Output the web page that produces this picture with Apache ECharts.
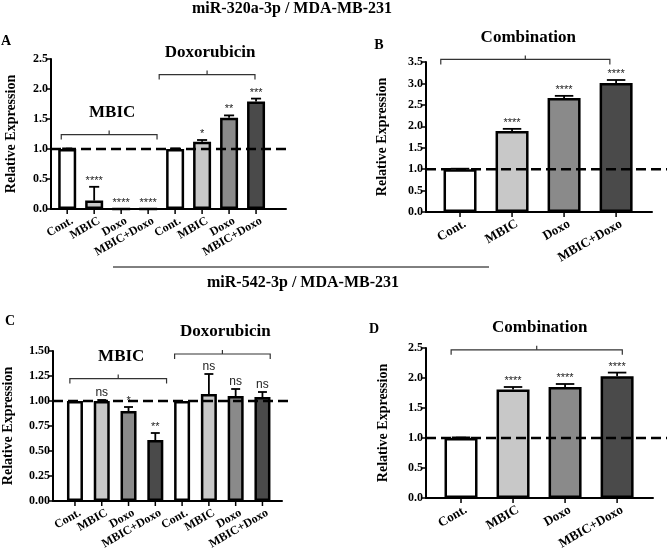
<!DOCTYPE html>
<html>
<head>
<meta charset="utf-8">
<script src="https://cdn.jsdelivr.net/npm/echarts@6.0.0/dist/echarts.min.js"></script>
<style>
  html, body { margin: 0; padding: 0; background: #fff; }
  #chart { width: 667px; height: 552px; }
</style>
</head>
<body>
<div id="chart"></div>
<script>
// groups shown on the x axes
var groupLabels = ['Cont.', 'MBIC', 'Doxo', 'MBIC+Doxo'];
var labelsAC = groupLabels.concat(groupLabels);

// A: miR-320a-3p, MBIC block then Doxorubicin block
var valuesA = [1.00, 0.14, 0.00, 0.00, 1.00, 1.12, 1.52, 1.79];
var errorsA = [0.01, 0.23, 0.00, 0.00, 0.01, 0.03, 0.04, 0.05];
var sigA = ['', '****', '****', '****', '', '*', '**', '***'];
var bracketsA = [
  { name: 'MBIC', from: -0.22, to: 3.33, y: 1.24 },
  { name: 'Doxorubicin', from: 3.41, to: 6.96, y: 2.24 }
];

// B: miR-320a-3p, combination
var valuesB = [1.00, 1.89, 2.66, 3.01];
var errorsB = [0.01, 0.05, 0.05, 0.07];
var sigB = ['', '****', '****', '****'];
var bracketsB = [{ name: 'Combination', from: -0.37, to: 2.88, y: 3.56 }];

// C: miR-542-3p, MBIC block then Doxorubicin block
var valuesC = [1.00, 1.00, 0.90, 0.61, 1.00, 1.07, 1.05, 1.04];
var errorsC = [0.00, 0.01, 0.04, 0.07, 0.00, 0.20, 0.07, 0.05];
var sigC = ['', 'ns', '*', '**', '', 'ns', 'ns', 'ns'];
var bracketsC = [
  { name: 'MBIC', from: -0.19, to: 3.42, y: 1.224 },
  { name: 'Doxorubicin', from: 3.72, to: 7.29, y: 1.47 }
];

// D: miR-542-3p, combination
var valuesD = [1.00, 1.81, 1.85, 2.03];
var errorsD = [0.01, 0.04, 0.05, 0.06];
var sigD = ['', '****', '****', '****'];
var bracketsD = [{ name: 'Combination', from: -0.19, to: 3.10, y: 2.47 }];

var refLevel = 1.0;

var barShades = ['#ffffff', '#c8c8c8', '#8a8a8a', '#4a4a4a'];
var serif = '"Liberation Serif", "Times New Roman", serif';
var sans = '"Liberation Sans", Arial, sans-serif';

var panels = [
  { letter: 'A', labels: labelsAC, values: valuesA, errors: errorsA, sig: sigA, brackets: bracketsA,
    yMax: 2.5, yStep: 0.5, dec: 1, grid: { left: 51, top: 59, width: 235, height: 150 },
    xMin: -0.6, xMax: 8.11, lineEnd: 8.15, barWidth: 18, nameGap: 33, labelFont: 12 },
  { letter: 'B', labels: groupLabels, values: valuesB, errors: errorsB, sig: sigB, brackets: bracketsB,
    yMax: 3.5, yStep: 0.5, dec: 1, grid: { left: 426, top: 62, width: 226, height: 150 },
    xMin: -0.654, xMax: 3.69, lineEnd: 3.98, barWidth: 33, nameGap: 37, labelFont: 13 },
  { letter: 'C', labels: labelsAC, values: valuesC, errors: errorsC, sig: sigC, brackets: bracketsC,
    yMax: 1.5, yStep: 0.25, dec: 2, grid: { left: 52, top: 351, width: 230, height: 150 },
    xMin: -0.82, xMax: 7.73, lineEnd: 8.14, barWidth: 16, nameGap: 38, labelFont: 12 },
  { letter: 'D', labels: groupLabels, values: valuesD, errors: errorsD, sig: sigD, brackets: bracketsD,
    yMax: 2.5, yStep: 0.5, dec: 1, grid: { left: 426, top: 348, width: 227, height: 150 },
    xMin: -0.673, xMax: 3.69, lineEnd: 3.96, barWidth: 33, nameGap: 36, labelFont: 13 }
];

function deg(d) { return d * Math.PI / 180; }

var grids = [], xAxes = [], yAxes = [], series = [];

panels.forEach(function (p, k) {
  grids.push(Object.assign({ containLabel: false }, p.grid));

  xAxes.push({
    gridIndex: k, type: 'value', min: p.xMin, max: p.xMax,
    axisLine: { onZero: false, lineStyle: { color: '#000', width: 2 } },
    axisTick: { show: false }, axisLabel: { show: false }, splitLine: { show: false }
  });

  yAxes.push({
    gridIndex: k, type: 'value', min: 0, max: p.yMax, interval: p.yStep,
    name: 'Relative Expression', nameLocation: 'middle', nameGap: p.nameGap,
    nameTextStyle: { fontFamily: serif, fontWeight: 'bold', fontSize: 14, color: '#000' },
    axisLine: { show: true, onZero: false, lineStyle: { color: '#000', width: 2 } },
    axisTick: { show: true, length: 4, lineStyle: { color: '#000', width: 1.5 } },
    axisLabel: {
      margin: 3, fontFamily: serif, fontWeight: 'bold', fontSize: 12, color: '#000',
      formatter: function (v) { return v.toFixed(p.dec); }
    },
    splitLine: { show: false }
  });

  // bars
  series.push({
    type: 'bar', xAxisIndex: k, yAxisIndex: k, barWidth: p.barWidth, z: 2,
    data: p.values.map(function (v, i) {
      return { value: [i, v], itemStyle: { color: barShades[i % 4], borderColor: '#000', borderWidth: 2.5 } };
    })
  });

  // dashed reference line at 1.0
  series.push({
    type: 'custom', xAxisIndex: k, yAxisIndex: k, z: 5, clip: false,
    data: [[p.xMin, p.lineEnd, refLevel]],
    renderItem: function (params, api) {
      var a = api.coord([api.value(0), api.value(2)]);
      var b = api.coord([api.value(1), api.value(2)]);
      return { type: 'line', shape: { x1: a[0], y1: a[1], x2: b[0], y2: b[1] },
        style: { stroke: '#000', lineWidth: 2.5, lineDash: [10, 5] } };
    }
  });

  // error bars + significance marks (above the dashed line)
  series.push({
    type: 'custom', xAxisIndex: k, yAxisIndex: k, z: 6, clip: false,
    data: p.values.map(function (v, i) { return [i, v, p.errors[i]]; }),
    renderItem: function (params, api) {
      var i = params.dataIndex;
      var base = api.coord([api.value(0), api.value(1)]);
      var top = api.coord([api.value(0), api.value(1) + api.value(2)]);
      var cap = p.barWidth * 0.28;
      var kids = [];
      if (api.value(2) > 0) {
        kids.push({ type: 'line', shape: { x1: base[0], y1: base[1], x2: top[0], y2: top[1] },
          style: { stroke: '#000', lineWidth: 1.8 } });
        kids.push({ type: 'line', shape: { x1: top[0] - cap, y1: top[1], x2: top[0] + cap, y2: top[1] },
          style: { stroke: '#000', lineWidth: 1.8 } });
      }
      var s = p.sig[i];
      if (s) {
        var isNs = s === 'ns';
        kids.push({ type: 'text', x: top[0], y: top[1] - (isNs ? 7 : 6),
          style: { text: s, textAlign: 'center', align: 'center', textVerticalAlign: 'middle', verticalAlign: 'middle',
            font: (isNs ? '12px ' : '11px ') + sans, fill: '#222' } });
      }
      return { type: 'group', children: kids };
    }
  });

  // group brackets with their titles
  series.push({
    type: 'custom', xAxisIndex: k, yAxisIndex: k, z: 4, clip: false,
    data: p.brackets.map(function (b) { return [b.from, b.to, b.y]; }),
    renderItem: function (params, api) {
      var b = p.brackets[params.dataIndex];
      var l = api.coord([api.value(0), api.value(2)]);
      var r = api.coord([api.value(1), api.value(2)]);
      var mid = (l[0] + r[0]) / 2, y = l[1];
      var st = { stroke: '#333', lineWidth: 1.2, fill: null };
      return { type: 'group', children: [
        { type: 'polyline', shape: { points: [[l[0], y + 5], [l[0], y], [r[0], y], [r[0], y + 5]] }, style: st },
        { type: 'line', shape: { x1: mid, y1: y - 4, x2: mid, y2: y }, style: st },
        { type: 'text', x: mid + 3, y: y - 22,
          style: { text: b.name, textAlign: 'center', align: 'center', textVerticalAlign: 'middle', verticalAlign: 'middle',
            font: 'bold 17px ' + serif, fill: '#000' } }
      ] };
    }
  });

  // category ticks and slanted labels
  series.push({
    type: 'custom', xAxisIndex: k, yAxisIndex: k, z: 4, clip: false,
    data: p.labels.map(function (l, i) { return [i, 0]; }),
    renderItem: function (params, api) {
      var pt = api.coord([api.value(0), 0]);
      return { type: 'group', children: [
        { type: 'line', shape: { x1: pt[0], y1: pt[1], x2: pt[0], y2: pt[1] + 5 },
          style: { stroke: '#000', lineWidth: 1.5 } },
        { type: 'text', x: pt[0] + 5, y: pt[1] + 11, rotation: deg(30),
          style: { text: p.labels[params.dataIndex], textAlign: 'right', align: 'right',
            textVerticalAlign: 'middle', verticalAlign: 'middle',
            font: 'bold ' + p.labelFont + 'px ' + serif, fill: '#000' } }
      ] };
    }
  });
});

var chart = echarts.init(document.getElementById('chart'));

chart.setOption({
  backgroundColor: '#fff',
  animation: false,
  grid: grids,
  xAxis: xAxes,
  yAxis: yAxes,
  series: series,
  graphic: [
    { type: 'text', x: 292, y: 9, style: { text: 'miR-320a-3p / MDA-MB-231', font: 'bold 16px ' + serif,
      textAlign: 'center', textVerticalAlign: 'middle', fill: '#000' } },
    { type: 'line', shape: { x1: 113, y1: 267, x2: 489, y2: 267 }, style: { stroke: '#000', lineWidth: 1 } },
    { type: 'text', x: 303, y: 283, style: { text: 'miR-542-3p / MDA-MB-231', font: 'bold 16px ' + serif,
      textAlign: 'center', textVerticalAlign: 'middle', fill: '#000' } },
    { type: 'text', x: 6, y: 41, style: { text: 'A', font: 'bold 14px ' + serif, textAlign: 'center', textVerticalAlign: 'middle', fill: '#000' } },
    { type: 'text', x: 379, y: 45, style: { text: 'B', font: 'bold 14px ' + serif, textAlign: 'center', textVerticalAlign: 'middle', fill: '#000' } },
    { type: 'text', x: 10, y: 321, style: { text: 'C', font: 'bold 14px ' + serif, textAlign: 'center', textVerticalAlign: 'middle', fill: '#000' } },
    { type: 'text', x: 374, y: 329, style: { text: 'D', font: 'bold 14px ' + serif, textAlign: 'center', textVerticalAlign: 'middle', fill: '#000' } }
  ]
});

window.addEventListener('resize', function () { chart.resize(); });
</script>
</body>
</html>
